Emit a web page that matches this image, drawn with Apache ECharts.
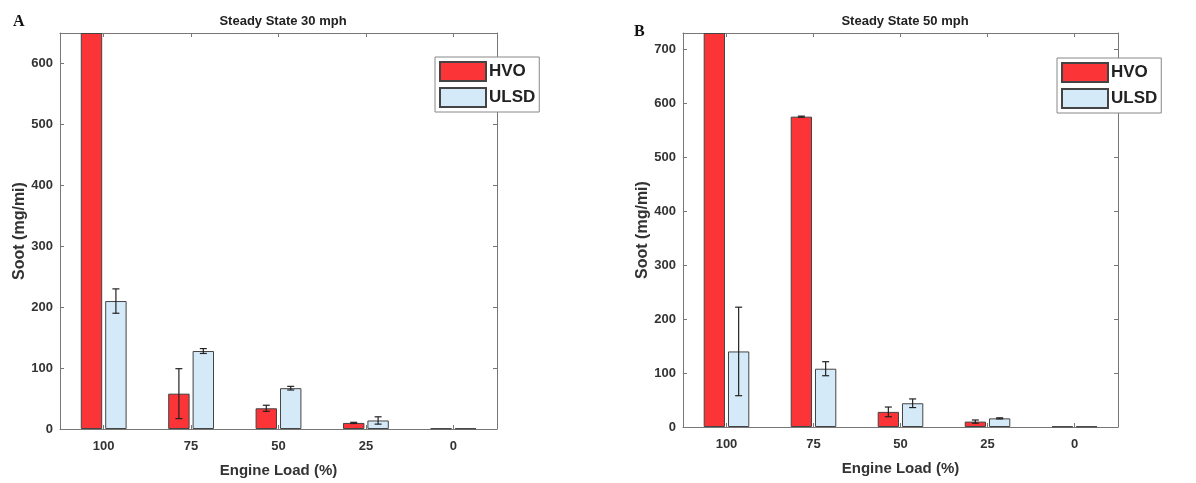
<!DOCTYPE html>
<html><head><meta charset="utf-8">
<script src="https://cdn.jsdelivr.net/npm/echarts@6/dist/echarts.min.js"></script>
<style>html,body{margin:0;padding:0;background:#fff}#c{width:1196px;height:483px}</style>
</head><body><div id="c"></div>
<script>
const categories = ['100', '75', '50', '25', '0'];
const hvo30 = [650, 58, 34, 10, 1];
const hvo30Err = [0, 41, 5, 1, 0];
const ulsd30 = [210, 128, 67, 14, 1];
const ulsd30Err = [20, 4, 3, 6, 0];
const hvo50 = [730, 575, 28, 10, 1];
const hvo50Err = [0, 1, 9, 3, 0];
const ulsd50 = [140, 108, 44, 16, 1];
const ulsd50Err = [82, 13, 8, 1, 0];
const yMax30 = 650, yMax50 = 730;

const FONT = 'Liberation Sans';
const RED = '#fb3437', BLUE = '#d5eaf8', EDGE = '#444';
const BARW = 0.245, GAP = 0.14;

function errData(vals, errs) { return vals.map((v, i) => [i, v - errs[i], v + errs[i]]); }
function errSeries(x, y, data, side) {
  return {
    type: 'custom', xAxisIndex: x, yAxisIndex: y, data: data, z: 5, clip: true,
    renderItem: function (params, api) {
      const i = api.value(0), lo = api.value(1), hi = api.value(2);
      if (hi - lo <= 0) return null;
      const band = api.size([1, 0])[0];
      const bw = BARW * band;
      const off = side * (bw + GAP * bw) / 2;
      const p1 = api.coord([i, hi]), p2 = api.coord([i, lo]);
      const cx = p1[0] + off, cap = 3.5;
      const st = { stroke: '#222', lineWidth: 1.2 };
      return { type: 'group', children: [
        { type: 'line', shape: { x1: cx, y1: p1[1], x2: cx, y2: p2[1] }, style: st },
        { type: 'line', shape: { x1: cx - cap, y1: p1[1], x2: cx + cap, y2: p1[1] }, style: st },
        { type: 'line', shape: { x1: cx - cap, y1: p2[1], x2: cx + cap, y2: p2[1] }, style: st }
      ]};
    }
  };
}
function barSeries(name, x, y, data, color) {
  return { name: name, type: 'bar', xAxisIndex: x, yAxisIndex: y, data: data,
    barWidth: (BARW * 100) + '%', barGap: (GAP * 100) + '%', clip: true,
    itemStyle: { color: color, borderColor: EDGE, borderWidth: 1 } };
}
const axisLine = { show: true, onZero: false, lineStyle: { color: '#777', width: 1 } };
const labelStyle = { fontFamily: FONT, fontWeight: 'bold', fontSize: 13, color: '#333' };
function xAxes(grid) {
  return [
    { type: 'category', gridIndex: grid, data: categories, position: 'bottom',
      axisLine: axisLine, axisTick: { show: true, inside: true, alignWithLabel: true, length: 4, lineStyle: { color: '#777' } },
      axisLabel: Object.assign({ margin: 11 }, labelStyle),
      name: 'Engine Load (%)', nameLocation: 'middle', nameGap: 34,
      nameTextStyle: { fontFamily: FONT, fontWeight: 'bold', fontSize: 15, color: '#333' } },
    { type: 'category', gridIndex: grid, data: categories, position: 'top',
      axisLine: axisLine, axisTick: { show: true, inside: true, alignWithLabel: true, length: 4, lineStyle: { color: '#777' } },
      axisLabel: { show: false } }
  ];
}
function yAxes(grid, max, gap) {
  return [
    { type: 'value', gridIndex: grid, min: 0, max: max, interval: 100, position: 'left',
      axisLine: axisLine, axisTick: { show: true, inside: true, length: 4, lineStyle: { color: '#777' } },
      splitLine: { show: false },
      axisLabel: Object.assign({ margin: 7, showMaxLabel: max % 100 === 0 }, labelStyle),
      name: 'Soot (mg/mi)', nameLocation: 'middle', nameGap: gap,
      nameTextStyle: { fontFamily: FONT, fontWeight: 'bold', fontSize: 16, color: '#333' } },
    { type: 'value', gridIndex: grid, min: 0, max: max, interval: 100, position: 'right',
      axisLine: axisLine, axisTick: { show: true, inside: true, length: 4, lineStyle: { color: '#777' } },
      splitLine: { show: false }, axisLabel: { show: false } }
  ];
}
function legend(left, top) {
  return { left: left, top: top, orient: 'vertical', itemWidth: 46, itemHeight: 19, itemGap: 5,
    padding: [4, 4, 4, 4], borderColor: '#888', borderWidth: 1, backgroundColor: '#fff',
    selectedMode: false, icon: 'rect',
    data: [{ name: 'HVO' }, { name: 'ULSD' }],
    textStyle: { fontFamily: FONT, fontWeight: 'bold', fontSize: 17, color: '#222', padding: [0, 0, 0, -2] } };
}
const chart = echarts.init(document.getElementById('c'), null, { renderer: 'canvas' });
chart.setOption({
  animation: false,
  title: [
    { text: 'Steady State 30 mph', left: 278, top: 10, textAlign: 'center',
      textStyle: { fontFamily: FONT, fontWeight: 'bold', fontSize: 13, color: '#222' } },
    { text: 'Steady State 50 mph', left: 900, top: 10, textAlign: 'center',
      textStyle: { fontFamily: FONT, fontWeight: 'bold', fontSize: 13, color: '#222' } },
    { text: 'A', left: 8, top: 9, textStyle: { fontFamily: 'Liberation Serif', fontWeight: 'bold', fontSize: 16, color: '#111' } },
    { text: 'B', left: 629, top: 19, textStyle: { fontFamily: 'Liberation Serif', fontWeight: 'bold', fontSize: 16, color: '#111' } }
  ],
  legend: [ legend(435, 57), legend(1057, 58) ],
  grid: [
    { left: 60, right: 699, top: 33, bottom: 53 },
    { left: 683, right: 78, top: 33, bottom: 56 }
  ],
  xAxis: xAxes(0).concat(xAxes(1)),
  yAxis: yAxes(0, yMax30, 29).concat(yAxes(1, yMax50, 25)),
  series: [
    barSeries('HVO', 0, 0, hvo30, RED),
    barSeries('ULSD', 0, 0, ulsd30, BLUE),
    errSeries(0, 0, errData(hvo30, hvo30Err), -1),
    errSeries(0, 0, errData(ulsd30, ulsd30Err), 1),
    barSeries('HVO', 2, 2, hvo50, RED),
    barSeries('ULSD', 2, 2, ulsd50, BLUE),
    errSeries(2, 2, errData(hvo50, hvo50Err), -1),
    errSeries(2, 2, errData(ulsd50, ulsd50Err), 1)
  ]
});
</script></body></html>
